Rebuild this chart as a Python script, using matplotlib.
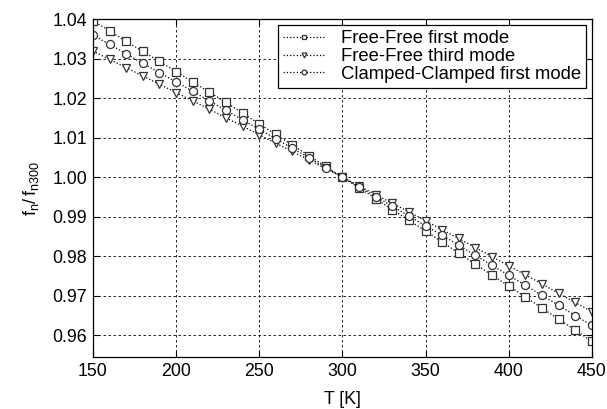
import matplotlib.pyplot as plt
import numpy as np

plt.rcParams["font.family"] = ["Liberation Sans", "DejaVu Sans"]
plt.rcParams["mathtext.fontset"] = "custom"
plt.rcParams["mathtext.rm"] = "Liberation Sans"
plt.rcParams["mathtext.it"] = "Liberation Sans"

T = list(range(150, 451, 10))

# Free-Free first mode
ff1 = [1.0396, 1.0370, 1.0344, 1.0318, 1.0293, 1.0267, 1.0241, 1.0215, 1.0189, 1.0162,
       1.0135, 1.0108, 1.0081, 1.0054, 1.0027, 1.0000, 0.9973, 0.9946, 0.9918, 0.9891,
       0.9864, 0.9836, 0.9808, 0.9780, 0.9752, 0.9725, 0.9697, 0.9669, 0.9641, 0.9613,
       0.9585]
# Free-Free third mode
ff3 = [1.0319, 1.0298, 1.0277, 1.0256, 1.0235, 1.0214, 1.0193, 1.0172, 1.0150, 1.0129,
       1.0107, 1.0086, 1.0065, 1.0043, 1.0022, 1.0000, 0.9978, 0.9956, 0.9934, 0.9912,
       0.9890, 0.9867, 0.9845, 0.9822, 0.9799, 0.9776, 0.9753, 0.9730, 0.9706, 0.9683,
       0.9660]
# Clamped-Clamped first mode
cc1 = [1.0359, 1.0336, 1.0312, 1.0288, 1.0264, 1.0241, 1.0217, 1.0193, 1.0169, 1.0145,
       1.0121, 1.0097, 1.0073, 1.0049, 1.0024, 1.0000, 0.9976, 0.9951, 0.9927, 0.9902,
       0.9877, 0.9853, 0.9828, 0.9802, 0.9777, 0.9752, 0.9727, 0.9701, 0.9676, 0.9650,
       0.9625]

xticks = [150, 200, 250, 300, 350, 400, 450]
yticks = [0.96, 0.97, 0.98, 0.99, 1.00, 1.01, 1.02, 1.03, 1.04]

fig = plt.figure(figsize=(6.07, 4.09), dpi=100)
ax = fig.add_axes([0.153, 0.127, 0.822, 0.8265])

style = dict(color="black", linestyle=":", linewidth=0.9, markersize=5.8,
             markerfacecolor="white", markeredgecolor="#333333", markeredgewidth=0.9)
ax.plot(T, ff1, marker="s", label="Free-Free first mode", **style)
ax.plot(T, ff3, marker="v", label="Free-Free third mode", **style)
ax.plot(T, cc1, marker="o", label="Clamped-Clamped first mode", **style)

ax.set_xlim(150, 450)
ax.set_ylim(0.9545, 1.04)
ax.set_xticks(xticks)
ax.set_yticks(yticks)
ax.set_yticklabels([f"{v:.2f}" for v in yticks])
ax.tick_params(direction="in", top=True, right=True, labelsize=12.8, length=4, pad=4)
ax.grid(True, color="black", linestyle=(0, (3, 3)), linewidth=0.6)
for s in ax.spines.values():
    s.set_linewidth(0.9)

ax.set_xlabel("T [K]", fontsize=12.8, labelpad=8)
ax.set_ylabel(r"$\mathregular{f_n / \/ f_{n300}}$", fontsize=13, labelpad=8)

leg = ax.legend(loc="upper right", fontsize=13.3, fancybox=False, framealpha=1,
                edgecolor="black", handlelength=2.2, borderpad=0.3, labelspacing=0.05,
                borderaxespad=0.3, handletextpad=0.9, markerscale=0.6)
leg.get_frame().set_linewidth(0.9)

fig.savefig("out.png", dpi=100)
